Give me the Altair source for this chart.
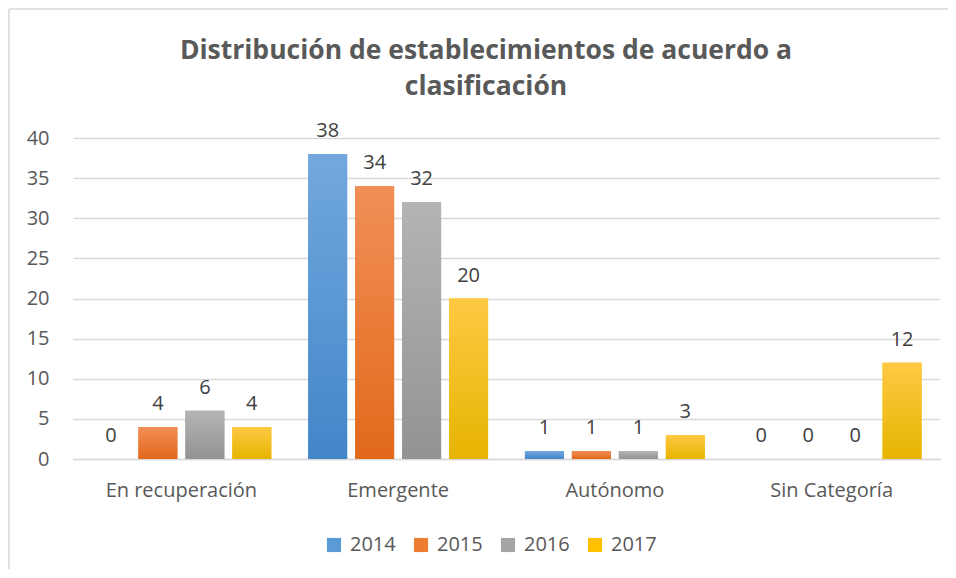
import altair as alt
import pandas as pd

title_lines = ["Distribución de establecimientos de acuerdo a", "clasificación"]
categories = ["En recuperación", "Emergente", "Autónomo", "Sin Categoría"]
years = ["2014", "2015", "2016", "2017"]
v2014 = [0, 38, 1, 0]
v2015 = [4, 34, 1, 0]
v2016 = [6, 32, 1, 0]
v2017 = [4, 20, 3, 12]
colors = ["#5b9bd5", "#ed7d31", "#a5a5a5", "#ffc000"]
grad_top = ["#72a8de", "#f18f58", "#b4b4b4", "#ffc944"]
grad_bot = ["#4286c8", "#e2691a", "#939393", "#e6b400"]

rows = []
for y, vals in zip(years, [v2014, v2015, v2016, v2017]):
    for c, v in zip(categories, vals):
        rows.append({"cat": c, "year": y, "value": v})
df = pd.DataFrame(rows)

FONT = "Open Sans"
FS = 20
W, H = 867, 321

xenc = alt.X("cat:N", sort=categories, title=None,
             scale=alt.Scale(paddingInner=0.17, paddingOuter=0.085),
             axis=alt.Axis(labelFontSize=FS, labelColor="#595959", labelFont=FONT,
                           labelPadding=21, ticks=False, domainColor="#d9d9d9",
                           domainWidth=1.5, labelAngle=0))
xoff = alt.XOffset("year:N", sort=years, scale=alt.Scale(domain=years, paddingInner=0.17))
yenc = alt.Y("value:Q", title=None,
             scale=alt.Scale(domain=[0, 40]),
             axis=alt.Axis(values=[0, 5, 10, 15, 20, 25, 30, 35, 40], labelFontSize=FS,
                           labelColor="#595959", labelFont=FONT, labelPadding=24,
                           ticks=False, domain=False, gridColor="#d9d9d9", gridWidth=1.5))

base = alt.Chart(df)

solid = base.mark_bar().encode(
    x=xenc, xOffset=xoff, y=yenc,
    color=alt.Color("year:N", sort=years, title=None,
                    scale=alt.Scale(domain=years, range=colors),
                    legend=alt.Legend(orient="none", direction="horizontal", legendX=251,
                                      legendY=397, symbolType="square", symbolSize=200,
                                      symbolStrokeWidth=0, labelFontSize=FS, labelFont=FONT,
                                      labelColor="#595959", columnPadding=15, labelOffset=6)),
)

layers = [solid]
for i, yr in enumerate(years):
    g = alt.Gradient(gradient="linear",
                     stops=[alt.GradientStop(color=grad_top[i], offset=0),
                            alt.GradientStop(color=grad_bot[i], offset=1)],
                     x1=0, x2=0, y1=0, y2=1)
    layers.append(
        base.transform_filter(alt.datum.year == yr).mark_bar(fill=g).encode(
            x=alt.X("cat:N", sort=categories), xOffset=xoff, y=alt.Y("value:Q")
        )
    )

labels = base.mark_text(baseline="bottom", dy=-13, fontSize=FS, font=FONT, color="#404040").encode(
    x=alt.X("cat:N", sort=categories), xOffset=xoff, y=alt.Y("value:Q"),
    text=alt.Text("value:Q"),
)
layers.append(labels)

frame_df = pd.DataFrame({"a": [0]})
left_edge = alt.Chart(frame_df).mark_rule(stroke="#d9d9d9", strokeWidth=1.5, clip=False).encode(
    x=alt.value(-64), y=alt.value(-129), y2=alt.value(H + 200))
top_edge = alt.Chart(frame_df).mark_rule(stroke="#d9d9d9", strokeWidth=1.5, clip=False).encode(
    x=alt.value(-64), x2=alt.value(W + 20), y=alt.value(-129))
layers.insert(0, left_edge)
layers.insert(1, top_edge)

for line, ypos in zip(title_lines, [-87, -51]):
    layers.append(
        alt.Chart(pd.DataFrame({"t": [line]})).mark_text(
            fontSize=26.5, font=FONT, fontWeight="bold", color="#595959",
            baseline="middle", align="center",
        ).encode(x=alt.value(413), y=alt.value(ypos), text="t:N")
    )

chart = alt.layer(*layers).properties(
    width=W, height=H,
    autosize=alt.AutoSizeParams(type="none"),
    padding={"left": 65, "top": 130, "right": 8, "bottom": 110},
).configure_view(stroke=None)

chart.save("out.html", embed_options={"renderer": "svg", "actions": False})
